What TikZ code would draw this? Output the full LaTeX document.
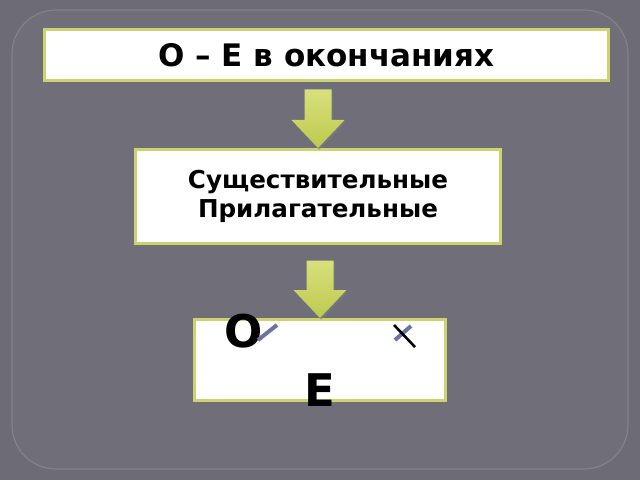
\documentclass[tikz,border=0pt]{standalone}
\usepackage{fontspec}
\setmainfont{DejaVu Sans}
\usetikzlibrary{calc,shadows}

\definecolor{bggray}{RGB}{108,107,118}
\definecolor{panelgray}{RGB}{111,110,121}
\definecolor{framegray}{RGB}{130,129,140}
\definecolor{boxline}{RGB}{204,212,112}
\definecolor{arrowtop}{RGB}{216,224,124}
\definecolor{arrowbot}{RGB}{188,202,78}
\definecolor{markblue}{RGB}{108,114,162}

\tikzset{
  box/.style={draw=boxline, line width=1.5pt, fill=white, inner sep=0pt, align=center},
  letter/.style={inner sep=0pt, font=\bfseries\fontsize{22.5}{26}\selectfont},
  flowarrow/.style={top color=arrowtop, bottom color=arrowbot,
    drop shadow={shadow xshift=0.6pt, shadow yshift=-0.9pt, opacity=0.55}},
  checkline/.style={markblue, line width=2pt},
  crossline/.style={black, line width=1.3pt}
}

% arrow from the bottom of #1 down to the top of #2, #3 = gap below #1
\newcommand{\flowarrow}[3]{%
  \path[flowarrow] let \p1=(#1.south), \p2=(#2.north) in
    (\x2-6.75pt,\y1-#3) -- (\x2+6.75pt,\y1-#3) -- (\x2+6.75pt,\y2+14pt)
    -- (\x2+13.25pt,\y2+14pt) -- (\x2,\y2) -- (\x2-13.25pt,\y2+14pt)
    -- (\x2-6.75pt,\y2+14pt) -- cycle;}

\begin{document}
\begin{tikzpicture}[x=0.5pt,y=-0.5pt]
  \useasboundingbox (0,0) rectangle (640,480);
  \fill[bggray] (0,0) rectangle (640,480);
  \draw[framegray, fill=panelgray, line width=0.6pt, rounded corners=22pt] (12,10) rectangle (628,469);

  \node[box, minimum width=282pt, minimum height=25.5pt,
        font=\bfseries\fontsize{15.5}{18}\selectfont] (title) at (326.5,55) {О – Е в окончаниях};
  \node[box, minimum width=182.5pt, minimum height=47pt,
        font=\bfseries\fontsize{12.3}{14.5}\selectfont] (kinds) at (318,196.5) {Существительные\\Прилагательные};
  \node[box, minimum width=125.5pt, minimum height=40.5pt] (rule) at (320,360) {};

  \flowarrow{title}{kinds}{3.75pt}
  \flowarrow{kinds}{rule}{7.75pt}

  \node[letter] (o) at (244,331) {О};
  \node[letter] (e) at (320,390) {Е};
  \draw[checkline] (258,340) -- (277,325);
  \draw[checkline] (395,340) -- (411,326);
  \draw[crossline] (394,325) -- (415,347);
\end{tikzpicture}
\end{document}
